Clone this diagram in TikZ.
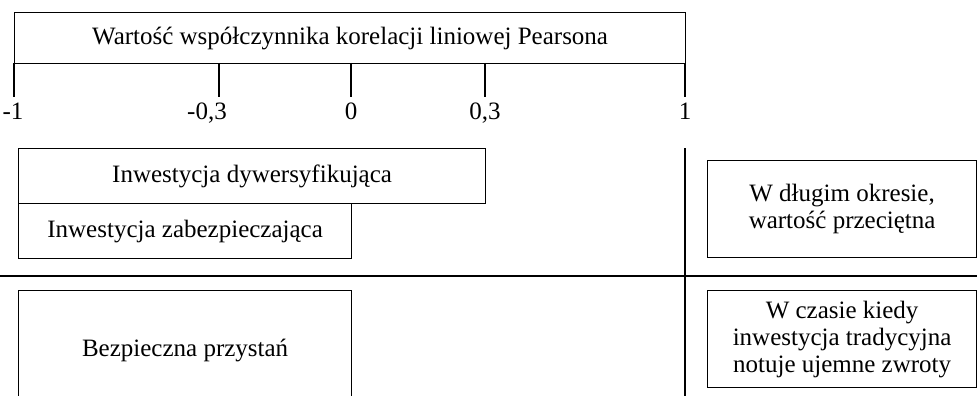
\documentclass[tikz,border=0pt]{standalone}
\usepackage{fontspec}
\setmainfont{Liberation Serif}
\usetikzlibrary{positioning}

\begin{document}
\begin{tikzpicture}[x=1pt,y=-1pt,
	box/.style={draw,line width=1.2pt,rectangle,inner sep=0pt,anchor=north west,
		font=\fontsize{25}{27}\selectfont,align=center},
	thick line/.style={line width=2pt},
	ticklabel/.style={inner sep=0pt,font=\fontsize{25}{27}\selectfont}]
	\useasboundingbox (0,0) rectangle (977,396);
	\clip (0,0) rectangle (977,396);
	% skala
	\node[box,minimum width=671pt,minimum height=51pt] (title) at (14,12) {Wartość współczynnika korelacji liniowej Pearsona};
	\foreach \x/\lab/\dx in {14/{-1}/-1,219/{-0,3}/-12,351/{0}/0,485/{0,3}/0,685/{1}/0}{
		\coordinate (tick\x) at (\x,63);
		\coordinate (end\x) at (\x,97);
		\draw[thick line] (tick\x) -- (end\x);
		\node[ticklabel,below=6pt of end\x,xshift=\dx pt] (lab\x) {\lab};
	}
	% lewa strona
	\node[box,minimum width=467pt,minimum height=55pt] (dyw) at (18,148) {Inwestycja dywersyfikująca};
	\node[box,minimum width=333pt,minimum height=55pt] (zab) at (18,203) {Inwestycja zabezpieczająca};
	\node[box,minimum width=333pt,minimum height=120pt] (bezp) at (18,290) {Bezpieczna przystań};
	% prawa strona
	\node[box,minimum width=269pt,minimum height=97pt] (dlug) at (707,160) {W długim okresie,\\wartość przeciętna};
	\node[box,minimum width=269pt,minimum height=97pt] (czas) at (707,290) {W czasie kiedy\\inwestycja tradycyjna\\notuje ujemne zwroty};
	% podzial
	\coordinate (sepL) at (0,276);
	\coordinate (sepR) at (977,276);
	\coordinate (vtop) at (685,148);
	\coordinate (vbot) at (685,396);
	\draw[thick line] (sepL) -- (sepR);
	\draw[thick line] (vtop) -- (vbot);
\end{tikzpicture}
\end{document}
